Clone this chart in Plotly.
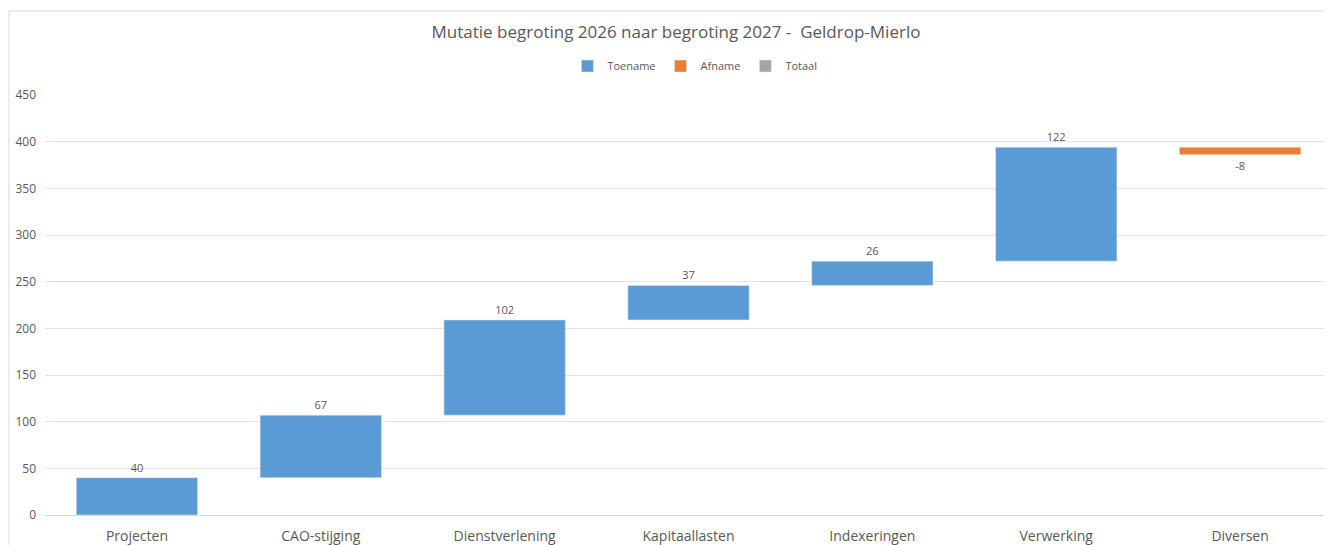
""" Waterfall: mutatie begroting Geldrop-Mierlo """

import plotly.graph_objects as go

categories = ['Projecten', 'CAO-stijging', 'Dienstverlening', 'Kapitaallasten',
              'Indexeringen', 'Verwerking', 'Diversen']
mutaties = [40, 67, 102, 37, 26, 122, -8]

# running start of each step
bases = []
total = 0
for v in mutaties:
    bases.append(total)
    total += v

up = [i for i, v in enumerate(mutaties) if v >= 0]
down = [i for i, v in enumerate(mutaties) if v < 0]

grey_text = '#595959'
font_name = 'Open Sans'

fig = go.Figure()
fig.add_trace(go.Bar(
    name='Toename',
    x=[categories[i] for i in up],
    y=[mutaties[i] for i in up],
    base=[bases[i] for i in up],
    marker_color='#5B9BD5',
    text=[str(mutaties[i]) for i in up],
    textposition='outside',
    textfont=dict(size=11, color=grey_text),
    cliponaxis=False,
))
fig.add_trace(go.Bar(
    name='Afname',
    x=[categories[i] for i in down],
    y=[mutaties[i] for i in down],
    base=[bases[i] for i in down],
    marker_color='#ED7D31',
    text=[str(mutaties[i]) for i in down],
    textposition='outside',
    textfont=dict(size=11, color=grey_text),
    cliponaxis=False,
))
# legend only, no totaal bar shown in the chart
fig.add_trace(go.Bar(
    name='Totaal',
    x=[categories[0]],
    y=[None],
    marker_color='#A5A5A5',
))

# page body has an 8px margin, so the figure is a bit smaller than the window
fig.update_layout(
    width=1324,
    height=537,
    barmode='overlay',
    bargap=0.34,
    plot_bgcolor='white',
    paper_bgcolor='white',
    font=dict(family=font_name, color=grey_text),
    margin=dict(l=37, r=0, t=87, b=30),
    title=dict(
        text='Mutatie begroting 2026 naar begroting 2027 -  Geldrop-Mierlo',
        x=0.5045, xanchor='center', y=0.955, yanchor='middle',
        font=dict(size=17, color=grey_text, family=font_name),
    ),
    legend=dict(
        orientation='h', x=0.505, xanchor='center', y=1.069, yanchor='middle',
        font=dict(size=11, color=grey_text), itemwidth=30,
        traceorder='normal',
    ),
    showlegend=True,
)
fig.update_xaxes(
    categoryorder='array', categoryarray=categories,
    showline=True, linecolor='#d9d9d9', linewidth=1,
    tickfont=dict(size=14, color=grey_text),
    ticks='', showgrid=False, ticklabelstandoff=8,
)
fig.update_yaxes(
    range=[0, 450], dtick=50,
    showgrid=True, gridcolor='#e3e3e3', gridwidth=1,
    zeroline=False,
    tickfont=dict(size=12, color=grey_text),
    ticks='', ticklabelstandoff=8,
)
fig.add_shape(
    type='rect', xref='paper', yref='paper',
    x0=-0.028, y0=-0.2, x1=1.01, y1=1.2,
    line=dict(color='#d9d9d9', width=1), layer='below',
)

fig.write_html("out.html")
